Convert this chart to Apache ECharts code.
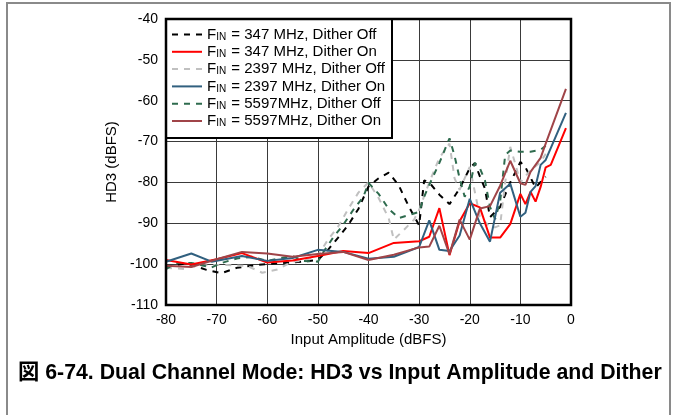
<!DOCTYPE html>
<html>
<head>
<meta charset="utf-8">
<script src="https://cdn.jsdelivr.net/npm/echarts@6/dist/echarts.min.js"></script>
<style>
html,body{margin:0;padding:0;background:#fff;}
#c{width:676px;height:415px;}
</style>
</head>
<body>
<div id="c"></div>
<script>
// ---- data ----
var names = [
  'FIN = 347 MHz, Dither Off',
  'FIN = 347 MHz, Dither On',
  'FIN = 2397 MHz, Dither Off',
  'FIN = 2397 MHz, Dither On',
  'FIN = 5597MHz, Dither Off',
  'FIN = 5597MHz, Dither On'
];
var xTicks = [-80, -70, -60, -50, -40, -30, -20, -10, 0];
var yTicks = [-110, -100, -90, -80, -70, -60, -50, -40];

var x347Off = [-80,-76,-72,-69,-66,-62,-58,-54,-50,-48,-46,-44,-42,-40,-38,-36,-34,-32,-30,-29,-28,-26,-24,-22,-20,-19,-18,-17,-16,-14,-12,-10,-9,-8,-7,-6,-5];
var y347Off = [-100.7,-99.8,-101.4,-102.2,-100.9,-100.2,-99.8,-99.5,-99,-96.5,-93.5,-90.4,-86.5,-81,-79,-77.6,-80.8,-86,-90.5,-79.5,-80,-83,-85.3,-81.5,-76.5,-75.3,-78.5,-81.5,-88.5,-86,-80,-75,-76.3,-78.8,-81.3,-79.9,-78.6];

var x347On = [-80,-75,-70,-65,-60,-55,-50,-45,-40,-35,-30,-28,-26,-24,-22,-20,-18,-16,-14,-12,-10,-9,-8,-7,-6,-5,-4,-1];
var y347On = [-99,-100.1,-98.8,-97.3,-99.6,-99.1,-98,-96.8,-97.3,-94.8,-94.4,-93.3,-86.3,-97.8,-89.5,-85.1,-86.1,-93.5,-93.5,-90.2,-82.8,-85.3,-82.3,-84.7,-81.1,-76.3,-75.7,-66.7];

var x2397Off = [-80,-76,-75,-71,-68,-64,-61,-58,-55,-53,-50,-48,-46,-44,-42,-40,-38,-36,-35,-33,-31,-30,-28,-26,-24,-23,-22,-20,-18,-16,-15,-14,-13,-12,-11,-10,-8,-6,-5];
var y2397Off = [-100.9,-101.2,-100.6,-100.2,-100.2,-100.4,-102.1,-101.3,-99.4,-99.2,-97.9,-94,-90.8,-86.5,-82.5,-80,-83.8,-88.8,-94,-91.6,-89.1,-86.7,-80,-74,-70.5,-79,-81.8,-76.2,-88.4,-90.9,-91,-90.5,-80,-71.3,-75.5,-80,-77,-75,-73];

var x2397On = [-80,-75,-71,-65,-60,-55,-50,-45,-40,-35,-30,-28,-26,-24,-22,-20,-18,-16,-14,-12,-10,-9,-8,-7,-6,-5,-1];
var y2397On = [-99.4,-97.4,-99.4,-98,-99.2,-98.5,-96.5,-97,-98.7,-98.2,-95.8,-89.3,-96.5,-96.8,-93,-84,-90,-94.5,-82.5,-80.3,-88.4,-87.4,-82.3,-80.9,-75.7,-74.5,-63];

var x5597Off = [-80,-78,-75,-71,-69,-66,-63,-60,-58,-55,-53,-50,-49,-47,-45,-43,-41,-40,-38,-36,-34,-32,-30,-29,-28,-26,-24,-23,-22,-21,-20,-19,-18,-17,-16,-15,-14,-13,-12,-10,-8,-6,-5];
var y5597Off = [-101.2,-99.7,-99.7,-100.8,-99.7,-98.6,-98.2,-99.2,-98.7,-98,-99.2,-99.4,-97.2,-93.5,-90.4,-86.7,-83.5,-80.1,-82.8,-86.5,-88.7,-88,-87.2,-83.5,-80.6,-75.2,-69.2,-73.5,-79,-83.5,-81,-75.2,-76.5,-79.5,-86,-89,-84.7,-73.3,-72.2,-72.5,-72.5,-72,-71];

var x5597On = [-80,-75,-70,-65,-60,-55,-50,-45,-40,-35,-30,-28,-26,-24,-22,-20,-18,-16,-14,-12,-10,-9,-8,-6,-5,-1];
var y5597On = [-100.4,-100.7,-98.8,-97,-97.4,-98.2,-97.5,-97,-99,-97.7,-95.9,-95.7,-90.6,-97.6,-89.1,-94,-86.4,-85.8,-80.8,-74.7,-80.2,-80.6,-77.4,-74,-70.5,-57.1];

var caption = '図 6-74. Dual Channel Mode: HD3 vs Input Amplitude and Dither';
var xTitle = 'Input Amplitude (dBFS)';
var yTitle = 'HD3 (dBFS)';

// ---- build ----
function pairs(xs, ys){ return xs.map(function(x,i){ return [x, ys[i]]; }); }
var FONT = '"Liberation Sans", Arial, sans-serif';
var styles = [
  {color:'#000000', type:[6,6]},
  {color:'#ff0000', type:'solid'},
  {color:'#c0c0c0', type:[6,6]},
  {color:'#31607f', type:'solid'},
  {color:'#2e6b4e', type:[6,6]},
  {color:'#a04448', type:'solid'}
];
var datas = [pairs(x347Off,y347Off), pairs(x347On,y347On), pairs(x2397Off,y2397Off),
             pairs(x2397On,y2397On), pairs(x5597Off,y5597Off), pairs(x5597On,y5597On)];
var order = [0,2,4,1,3,5];
var series = order.map(function(i){
  return {
    name: names[i], type:'line', data: datas[i], symbol:'none', silent:true,
    lineStyle:{color:styles[i].color, width:2, type:styles[i].type},
    itemStyle:{color:styles[i].color},
    z: styles[i].type === 'solid' ? 3 : 2
  };
});

var chart = echarts.init(document.getElementById('c'), null, {renderer:'canvas'});
chart.setOption({
  animation:false,
  backgroundColor:'#ffffff',
  grid:{left:166, top:19, width:405, height:286, containLabel:false},
  xAxis:{
    type:'value', min:xTicks[0], max:xTicks[xTicks.length-1], interval:10,
    name:xTitle, nameLocation:'middle', nameGap:25,
    nameTextStyle:{fontFamily:FONT, fontSize:15, color:'#000'},
    axisLine:{show:false}, axisTick:{show:false},
    axisLabel:{fontFamily:FONT, fontSize:14, color:'#000', margin:8},
    splitLine:{show:true, lineStyle:{color:'#3a3a3a', width:1}}
  },
  yAxis:{
    type:'value', min:yTicks[0], max:yTicks[yTicks.length-1], interval:10,
    name:yTitle, nameLocation:'middle', nameGap:45, nameRotate:90,
    nameTextStyle:{fontFamily:FONT, fontSize:15, color:'#000'},
    axisLine:{show:false}, axisTick:{show:false},
    axisLabel:{fontFamily:FONT, fontSize:14, color:'#000', margin:8},
    splitLine:{show:true, lineStyle:{color:'#3a3a3a', width:1}}
  },
  legend:{
    show:true, orient:'vertical', left:171, top:27, padding:0, itemGap:2.3,
    itemWidth:30, itemHeight:14, z:10,
    itemStyle:{opacity:0, borderWidth:0},
    data: names.map(function(n){ return {name:n}; }),
    formatter:function(n){ return '{f|F}{s|IN}{f|' + n.slice(3) + '}'; },
    textStyle:{fontFamily:FONT, fontSize:15, color:'#000',
      rich:{ f:{fontFamily:FONT, fontSize:15, color:'#000', lineHeight:15},
             s:{fontFamily:FONT, fontSize:10, color:'#000', lineHeight:14, padding:[5,1,0,0]} }}
  },
  graphic:[
    {type:'rect', z:8, shape:{x:166, y:19, width:226, height:119}, style:{fill:'#fff', stroke:'#000', lineWidth:2}},
    {type:'rect', z:9, shape:{x:166, y:19, width:405, height:286}, style:{fill:null, stroke:'#000', lineWidth:2.5}},
    {type:'rect', z:9, shape:{x:7, y:3, width:663, height:420}, style:{fill:null, stroke:'#8a8a8a', lineWidth:2}},
    {type:'text', z:9, left:18, top:362, style:{text:caption, font:'bold 21.3px "Liberation Sans", "Noto Sans CJK JP", sans-serif', fill:'#000'}}
  ],
  series: series
});
</script>
</body>
</html>
